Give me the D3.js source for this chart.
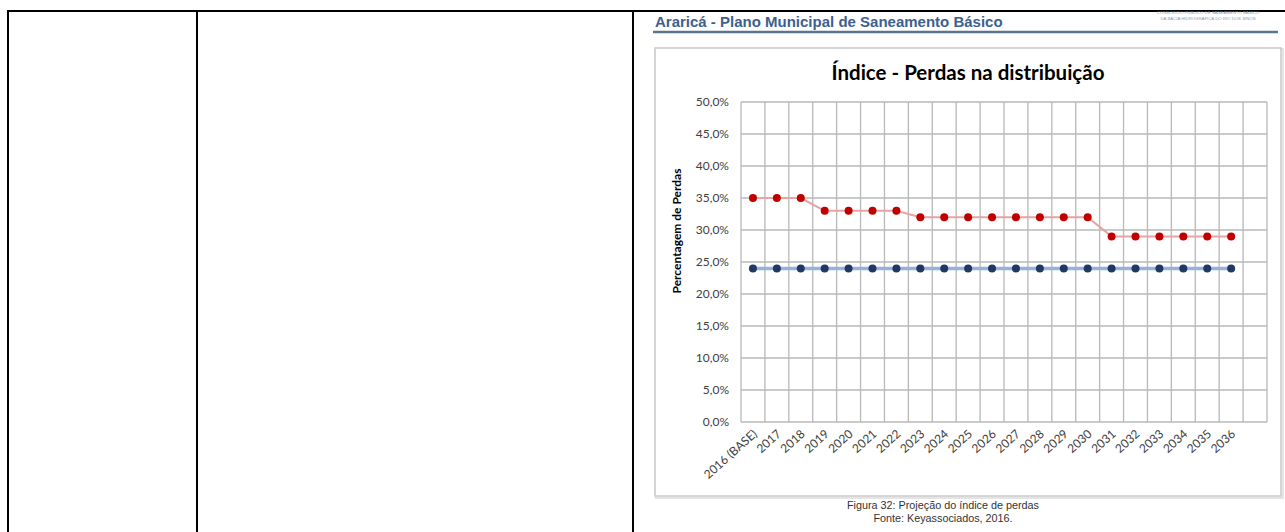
<!DOCTYPE html>
<html>
<head>
<meta charset="utf-8">
<script src="https://cdn.jsdelivr.net/npm/d3@7"></script>
<style>
  body { margin: 0; background: #fff; }
  svg { display: block; }
</style>
</head>
<body>
<svg id="chart"></svg>
<script>
// categorias (a ultima coluna do Excel fica vazia)
const anos = ["2016 (BASE)", "2017", "2018", "2019", "2020", "2021", "2022", "2023", "2024", "2025",
    "2026", "2027", "2028", "2029", "2030", "2031", "2032", "2033", "2034", "2035", "2036", ""];

// indice de perdas projetado (%)
const perdas = [35, 35, 35, 33, 33, 33, 33, 32, 32, 32, 32, 32, 32, 32, 32, 29, 29, 29, 29, 29, 29];

// meta (%)
const meta = [24, 24, 24, 24, 24, 24, 24, 24, 24, 24, 24, 24, 24, 24, 24, 24, 24, 24, 24, 24, 24];

const yTicks = [0, 5, 10, 15, 20, 25, 30, 35, 40, 45, 50];

const titulo = "Índice - Perdas na distribuição";
const tituloY = "Percentagem de Perdas";
const cabecalho = "Araricá - Plano Municipal de Saneamento Básico";
const legenda = ["Figura 32: Projeção do índice de perdas", "Fonte: Keyassociados, 2016."];

var svgWidth = 1285,
    svgHeight = 532;

var svg = d3.select("#chart")
    .attr("width", svgWidth)
    .attr("height", svgHeight);

// tabela do documento
var tabela = svg.append("g").attr("stroke", "#000").attr("stroke-width", 2);
tabela.append("line").attr("x1", 7).attr("x2", 1285).attr("y1", 11).attr("y2", 11);
[8, 197, 633].forEach(x => {
    tabela.append("line").attr("x1", x).attr("x2", x).attr("y1", 10).attr("y2", 532);
});

// cabecalho da pagina
svg.append("text")
    .attr("x", 655)
    .attr("y", 27)
    .attr("font-family", "Liberation Sans, Arial, sans-serif")
    .attr("font-weight", "bold")
    .attr("font-size", 15)
    .attr("fill", "#3e5f8e")
    .text(cabecalho);

svg.append("line")
    .attr("x1", 653).attr("x2", 1278)
    .attr("y1", 32).attr("y2", 32)
    .attr("stroke", "#5b7393")
    .attr("stroke-width", 2.5);

svg.append("text")
    .attr("x", 1208).attr("y", 14)
    .attr("text-anchor", "middle")
    .attr("font-family", "Liberation Sans, Arial, sans-serif")
    .attr("font-size", 4.3)
    .attr("fill", "#7f96c0")
    .text("CONSÓRCIO PÚBLICO DE SANEAMENTO BÁSICO");
svg.append("text")
    .attr("x", 1208).attr("y", 19.5)
    .attr("text-anchor", "middle")
    .attr("font-family", "Liberation Sans, Arial, sans-serif")
    .attr("font-size", 4.3)
    .attr("fill", "#7f96c0")
    .text("DA BACIA HIDROGRÁFICA DO RIO DOS SINOS");

// moldura do grafico
svg.append("rect")
    .attr("x", 656).attr("y", 49)
    .attr("width", 627).attr("height", 449)
    .attr("fill", "none")
    .attr("stroke", "#e4e4e4")
    .attr("stroke-width", 2);
svg.append("rect")
    .attr("x", 655).attr("y", 48)
    .attr("width", 626).attr("height", 448)
    .attr("fill", "#fff")
    .attr("stroke", "#c8c8c8")
    .attr("stroke-width", 1.5);

svg.append("text")
    .attr("x", 968)
    .attr("y", 80)
    .attr("text-anchor", "middle")
    .attr("font-family", "Lato, sans-serif")
    .attr("font-weight", "bold")
    .attr("font-size", 20.5)
    .attr("fill", "#000")
    .text(titulo);

var margin = { top: 102, left: 741, right: 1267, bottom: 422 };

var x = d3.scaleBand()
    .domain(anos)
    .range([margin.left, margin.right]);

var y = d3.scaleLinear()
    .domain([0, 50])
    .range([margin.bottom, margin.top]);

var g = svg.append("g");

// grade
g.selectAll(".hgrid")
    .data(yTicks)
    .enter()
    .append("line")
    .attr("x1", margin.left).attr("x2", margin.right)
    .attr("y1", d => y(d)).attr("y2", d => y(d))
    .attr("stroke", "#b8b8b8")
    .attr("stroke-width", 1.3);

var bordas = anos.map(d => x(d)).concat([margin.right]);
g.selectAll(".vgrid")
    .data(bordas)
    .enter()
    .append("line")
    .attr("x1", d => d).attr("x2", d => d)
    .attr("y1", margin.top).attr("y2", margin.bottom)
    .attr("stroke", "#b8b8b8")
    .attr("stroke-width", 1.3);

// eixo y
var yAxis = d3.axisLeft(y)
    .tickValues(yTicks)
    .tickSize(0)
    .tickPadding(12)
    .tickFormat(d => d.toFixed(1).replace(".", ",") + "%");

g.append("g")
    .attr("class", "eixo-y")
    .attr("transform", "translate(" + margin.left + ",0)")
    .call(yAxis)
    .call(s => s.select(".domain").remove());

g.selectAll(".eixo-y .tick text")
    .attr("font-family", "Lato, sans-serif")
    .attr("font-size", 12)
    .attr("fill", "#404040");

// eixo x
var xAxis = d3.axisBottom(x)
    .tickSize(0)
    .tickPadding(0);

g.append("g")
    .attr("class", "eixo-x")
    .attr("transform", "translate(0," + margin.bottom + ")")
    .call(xAxis)
    .call(s => s.select(".domain").remove())
    .selectAll(".tick text")
    .attr("text-anchor", "end")
    .attr("dy", 0)
    .attr("transform", "translate(5,13) rotate(-42)");

g.selectAll(".eixo-x .tick text")
    .attr("font-family", "Lato, sans-serif")
    .attr("font-size", 12)
    .attr("fill", "#404040");

// titulo do eixo y
svg.append("text")
    .attr("transform", "translate(681,231) rotate(-90)")
    .attr("text-anchor", "middle")
    .attr("font-family", "Lato, sans-serif")
    .attr("font-weight", "bold")
    .attr("font-size", 12)
    .attr("fill", "#000")
    .text(tituloY);

// series
var series = [
    { nome: "perdas", valores: perdas, linha: "#e8a3a3", largura: 2, ponto: "#c00000" },
    { nome: "meta", valores: meta, linha: "#95b3d7", largura: 3.5, ponto: "#1f3864" }
];

var line = d3.line()
    .x((d, i) => x(anos[i]) + x.bandwidth() / 2)
    .y(d => y(d));

series.forEach(s => {
    g.append("path")
        .attr("fill", "none")
        .attr("stroke", s.linha)
        .attr("stroke-width", s.largura)
        .attr("stroke-linejoin", "round")
        .attr("d", line(s.valores));

    g.selectAll(".pt-" + s.nome)
        .data(s.valores)
        .enter()
        .append("circle")
        .attr("cx", (d, i) => x(anos[i]) + x.bandwidth() / 2)
        .attr("cy", d => y(d))
        .attr("r", 4)
        .attr("fill", s.ponto);
});

// legenda da figura
legenda.forEach((t, i) => {
    svg.append("text")
        .attr("x", 943)
        .attr("y", 509 + i * 13)
        .attr("text-anchor", "middle")
        .attr("font-family", "Liberation Sans, Arial, sans-serif")
        .attr("font-size", 10.8)
        .attr("fill", "#333")
        .text(t);
});
</script>
</body>
</html>
